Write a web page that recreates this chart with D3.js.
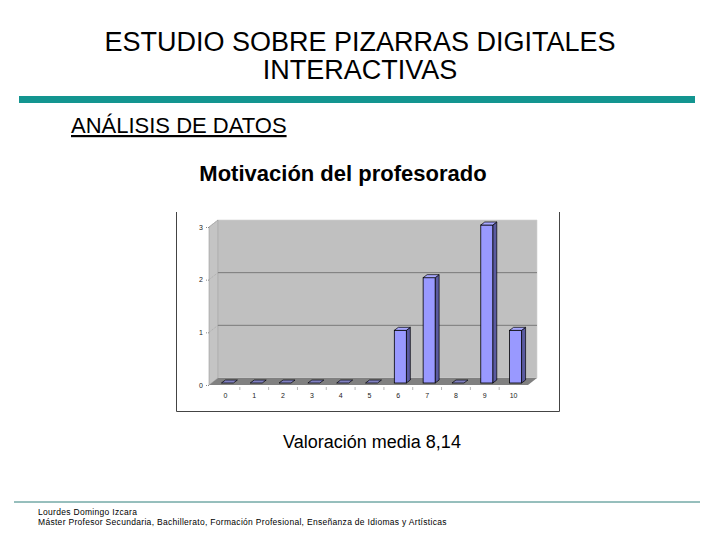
<!DOCTYPE html>
<html><head><meta charset="utf-8">
<script src="https://cdn.jsdelivr.net/npm/d3@7"></script>
<style>body{margin:0;background:#fff}svg{display:block}text{font-family:"Liberation Sans",Arial,sans-serif}</style>
</head><body>
<svg id="c" width="720" height="540"></svg>
<script>
const categories = ["0","1","2","3","4","5","6","7","8","9","10"];
const values = [0,0,0,0,0,0,1,2,0,3,1];
const yTicks = [0,1,2,3];
const titleLines = ["ESTUDIO SOBRE PIZARRAS DIGITALES","INTERACTIVAS"];
const subtitle = "ANÁLISIS DE DATOS";
const chartTitle = "Motivación del profesorado";
const caption = "Valoración media 8,14";
const footerLines = ["Lourdes Domingo Izcara","Máster Profesor Secundaria, Bachillerato, Formación Profesional, Enseñanza de Idiomas y Artísticas"];

const svg = d3.select("#c");

// Titles
svg.selectAll("text.title").data(titleLines).join("text")
  .attr("x",360).attr("y",(d,i)=>51+i*28).attr("text-anchor","middle")
  .attr("font-size",27).attr("fill","#000").text(d=>d);
svg.append("rect").attr("x",19).attr("y",96).attr("width",676).attr("height",7).attr("fill","#139590");
svg.append("text").attr("x",71).attr("y",133).attr("font-size",22).attr("fill","#000")
  .attr("text-decoration","underline").text(subtitle);
svg.append("text").attr("x",343).attr("y",181).attr("text-anchor","middle")
  .attr("font-size",22).attr("font-weight","bold").attr("fill","#000").text(chartTitle);
svg.append("text").attr("x",372).attr("y",448).attr("text-anchor","middle")
  .attr("font-size",18).attr("fill","#000").text(caption);

// footer
svg.append("line").attr("x1",14).attr("x2",700).attr("y1",502).attr("y2",502).attr("stroke","#2f7f7a").attr("stroke-width",1);
svg.selectAll("text.foot").data(footerLines).join("text")
  .attr("x",38).attr("y",(d,i)=>515+i*10).attr("font-size",8.5).attr("letter-spacing",0.3)
  .attr("fill","#000").text(d=>d);

// chart frame
svg.append("path").attr("d","M176.5,212 V411.5 H559.5 V212").attr("fill","none").attr("stroke","#444").attr("stroke-width",1);

// 3D chart geometry
const frontL = 209, frontR = 528, floorY = 385;
const wdx = 9, wdy = -7;
const y = d3.scaleLinear().domain([0,3]).range([floorY, 227]);
const x = d3.scaleBand().domain(categories).range([211,528]).padding(0);

const g = svg.append("g");
// back wall
g.append("path").attr("d",`M${frontL+wdx},${y(0)+wdy} V${y(3)+wdy} H${frontR+wdx} V${y(0)+wdy} Z`)
  .attr("fill","#c0c0c0").attr("stroke","#d0d0d0").attr("stroke-width",0.6);
// left wall
g.append("path").attr("d",`M${frontL},${y(0)} V${y(3)} L${frontL+wdx},${y(3)+wdy} V${y(0)+wdy} Z`)
  .attr("fill","#c4c4c4").attr("stroke","#9a9a9a").attr("stroke-width",0.6);
// floor
g.append("path").attr("d",`M${frontL},${y(0)} L${frontL+wdx},${y(0)+wdy} H${frontR+wdx} L${frontR},${y(0)} Z`)
  .attr("fill","#808080");
// gridlines
g.selectAll("line.grid").data(yTicks.filter(t=>t>0 && t<3)).join("line")
  .attr("x1",frontL+wdx).attr("x2",frontR+wdx).attr("y1",d=>y(d)+wdy).attr("y2",d=>y(d)+wdy)
  .attr("stroke","#7a7a7a").attr("stroke-width",1);
g.selectAll("line.gridside").data(yTicks.filter(t=>t>0)).join("line")
  .attr("x1",frontL).attr("x2",frontL+wdx).attr("y1",d=>y(d)).attr("y2",d=>y(d)+wdy)
  .attr("stroke","#9a9a9a").attr("stroke-width",0.6).attr("stroke-dasharray","1,1");

// bars
const bw = 12, bdx = 2, bdy = -2, ddx = 4, ddy = -3;
const bars = g.selectAll("g.bar").data(values.map((v,i)=>({c:categories[i],v}))).join("g");
bars.each(function(d){
  const gb = d3.select(this);
  const x0 = x(d.c) + x.bandwidth()/2 - bw/2 + bdx;
  const yb = y(0) + bdy, yt = y(d.v) + bdy;
  if (d.v > 0) {
    gb.append("path").attr("d",`M${x0+bw},${yb} V${yt} L${x0+bw+ddx},${yt+ddy} V${yb+ddy} Z`)
      .attr("fill","#5a5aa0").attr("stroke","#000").attr("stroke-width",0.7);
    gb.append("rect").attr("x",x0).attr("y",yt).attr("width",bw).attr("height",yb-yt)
      .attr("fill","#9999ff").attr("stroke","#000").attr("stroke-width",0.8);
  }
  gb.append("path").attr("d",`M${x0},${yt} L${x0+ddx},${yt+ddy} H${x0+bw+ddx} L${x0+bw},${yt} Z`)
    .attr("fill", d.v>0 ? "#a8a8ff" : "#8080c0").attr("stroke","#000").attr("stroke-width",0.7);
});

// y axis
const yAxis = g.append("g").attr("transform",`translate(${frontL},0)`)
  .call(d3.axisLeft(y).tickValues(yTicks).tickSize(3).tickFormat(d3.format("d")));
yAxis.select(".domain").remove();
yAxis.selectAll("line").attr("stroke","#888").attr("stroke-dasharray","1,1");
yAxis.selectAll("text").attr("font-size",7).attr("fill","#222").attr("font-family","Liberation Sans, Arial");

// x axis
const xAxis = g.append("g").attr("transform",`translate(0,${floorY})`)
  .call(d3.axisBottom(x).tickSize(0).tickPadding(8));
xAxis.select(".domain").remove();
xAxis.selectAll("text").attr("font-size",7).attr("fill","#222").attr("font-family","Liberation Sans, Arial");
g.selectAll("line.xt").data(categories.slice(1)).join("line")
  .attr("x1",d=>x(d)).attr("x2",d=>x(d)).attr("y1",floorY+2).attr("y2",floorY+5)
  .attr("stroke","#999").attr("stroke-width",0.7);
</script>
</body></html>
